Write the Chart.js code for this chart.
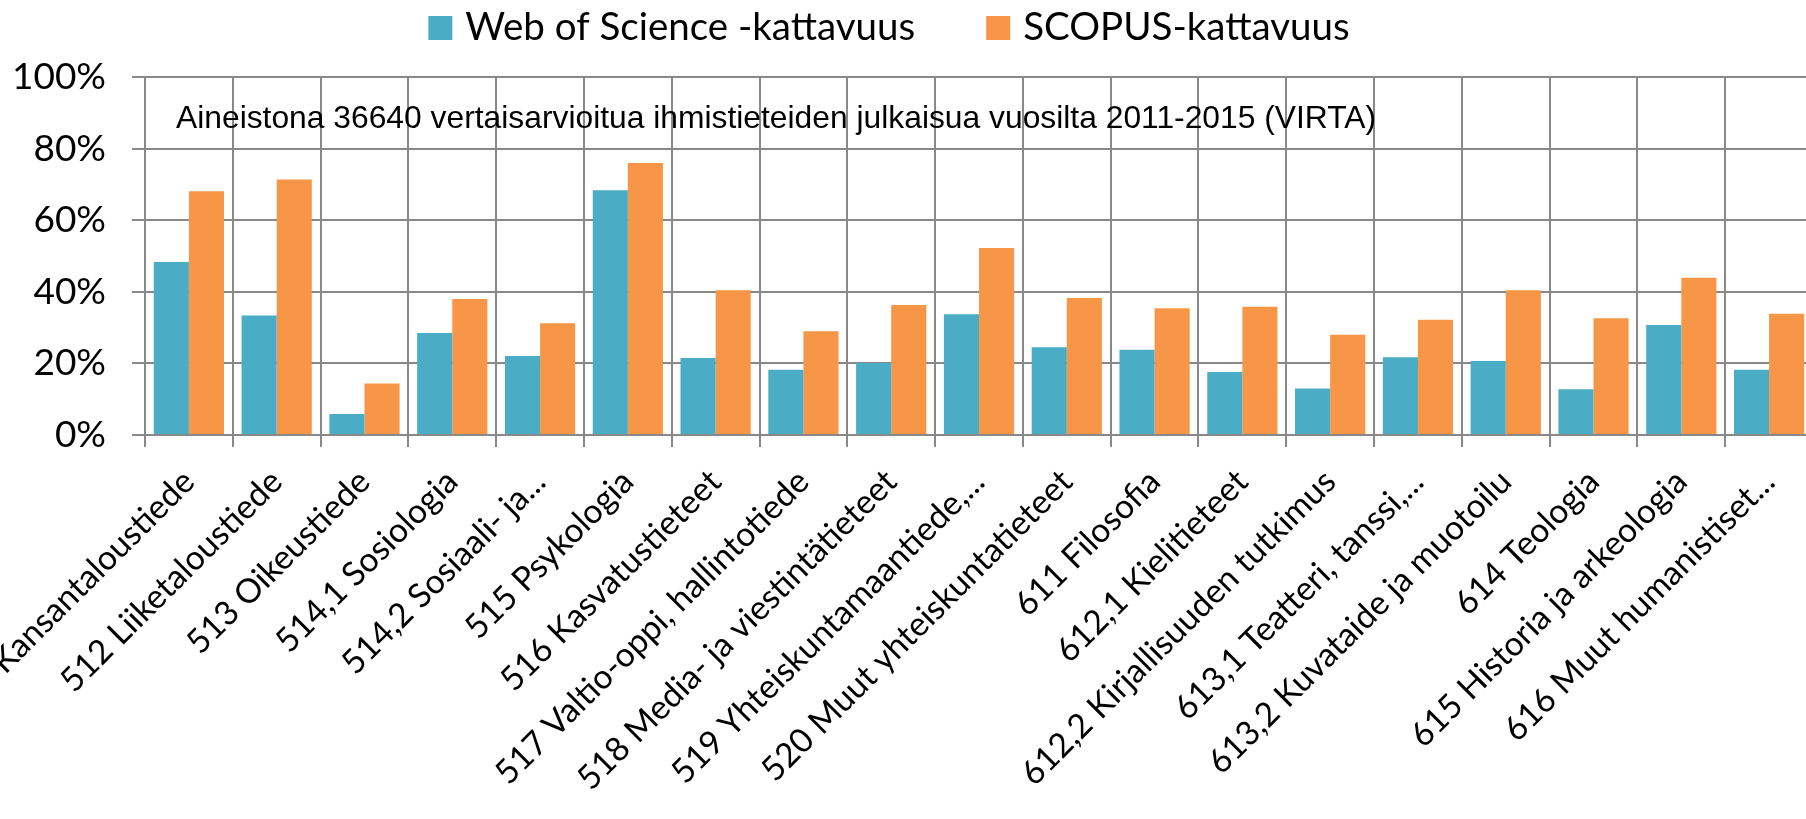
<!DOCTYPE html>
<html><head><meta charset="utf-8">
<script src="https://cdn.jsdelivr.net/npm/chart.js@4.4.1/dist/chart.umd.min.js"></script>
<style>
html,body{margin:0;padding:0;width:1806px;height:819px;overflow:hidden;background:#fff;}
#wrap{position:absolute;left:0;top:0;}
canvas{display:block;}
</style></head><body>
<div id="wrap"><canvas id="c" width="1816" height="819"></canvas></div>
<script>
const categories = [
  "511 Kansantaloustiede", "512 Liiketaloustiede", "513 Oikeustiede", "514,1 Sosiologia",
  "514,2 Sosiaali- ja...", "515 Psykologia", "516 Kasvatustieteet", "517 Valtio-oppi, hallintotiede",
  "518 Media- ja viestintätieteet", "519 Yhteiskuntamaantiede,...", "520 Muut yhteiskuntatieteet",
  "611 Filosofia", "612,1 Kielitieteet", "612,2 Kirjallisuuden tutkimus", "613,1 Teatteri, tanssi,...",
  "613,2 Kuvataide ja muotoilu", "614 Teologia", "615 Historia ja arkeologia", "616 Muut humanistiset..."
];
const wosValues = [48.3, 33.4, 5.9, 28.5, 22.1, 68.4, 21.5, 18.2, 20.1, 33.7, 24.5, 23.8, 17.6, 13.0, 21.7, 20.7, 12.8, 30.7, 18.2];
const scopusValues = [68.1, 71.4, 14.4, 38.0, 31.2, 76.0, 40.4, 29.0, 36.3, 52.2, 38.3, 35.4, 35.8, 28.0, 32.2, 40.4, 32.6, 43.9, 33.9];
const seriesNames = ["Web of Science -kattavuus", "SCOPUS-kattavuus"];
const noteText = "Aineistona 36640 vertaisarvioitua ihmistieteiden julkaisua vuosilta 2011-2015 (VIRTA)";

const GRID = '#898989';

const notePlugin = {
  id: 'note',
  afterDatasetsDraw(chart) {
    const {ctx, chartArea} = chart;
    ctx.save();
    ctx.font = '31.8px "Liberation Sans", Arial, sans-serif';
    ctx.fillStyle = '#000';
    ctx.textBaseline = 'alphabetic';
    ctx.textAlign = 'left';
    ctx.fillText(noteText, chartArea.left + 31, chartArea.top + 51);
    ctx.restore();
  }
};

const legendPlugin = {
  id: 'topLegend',
  afterDraw(chart) {
    const ctx = chart.ctx;
    const items = chart.data.datasets.map(d => ({ text: d.label, color: d.backgroundColor }));
    ctx.save();
    ctx.font = '38.5px Lato, sans-serif';
    ctx.textBaseline = 'alphabetic';
    ctx.textAlign = 'left';
    const box = 24, gapBoxText = 13, gapItems = 71, centerX = 889, boxTop = 16, baseline = 39.5;
    const widths = items.map(it => box + gapBoxText + ctx.measureText(it.text).width);
    const total = widths.reduce((a, b) => a + b, 0) + gapItems * (items.length - 1);
    let x = centerX - total / 2;
    items.forEach((it, i) => {
      ctx.fillStyle = it.color;
      ctx.fillRect(x, boxTop, box, box);
      ctx.fillStyle = '#000';
      ctx.fillText(it.text, x + box + gapBoxText, baseline);
      x += widths[i] + gapItems;
    });
    ctx.restore();
  }
};

new Chart(document.getElementById('c'), {
  type: 'bar',
  data: {
    labels: categories,
    datasets: [
      { label: seriesNames[0], data: wosValues, backgroundColor: '#4BACC6', borderWidth: 0 },
      { label: seriesNames[1], data: scopusValues, backgroundColor: '#F79646', borderWidth: 0 }
    ]
  },
  options: {
    responsive: false,
    animation: false,
    datasets: { bar: { categoryPercentage: 0.8, barPercentage: 1.0 } },
    layout: { padding: { left: 0, right: 3, top: 77, bottom: 0 } },
    plugins: {
      legend: { display: false },
      tooltip: { enabled: false }
    },
    scales: {
      x: {
        grid: { color: GRID, lineWidth: 2, tickLength: 12, offset: true, drawTicks: true },
        border: { color: GRID, width: 2 },
        ticks: { font: { family: 'Lato', size: 33.5 }, color: '#000', minRotation: 45, maxRotation: 45, autoSkip: false, padding: 15 },
        afterFit(s) { s.height = 384; s.paddingLeft = 0; s.paddingRight = 0; }
      },
      y: {
        min: 0, max: 100,
        ticks: { stepSize: 20, callback: v => v + '%', font: { family: 'Lato', size: 37 }, color: '#000', padding: 26 },
        grid: { color: GRID, lineWidth: 2, tickLength: 13 },
        border: { color: GRID, width: 2 },
        afterFit(s) { s.width = 145; }
      }
    }
  },
  plugins: [notePlugin, legendPlugin]
});
</script>
</body></html>
